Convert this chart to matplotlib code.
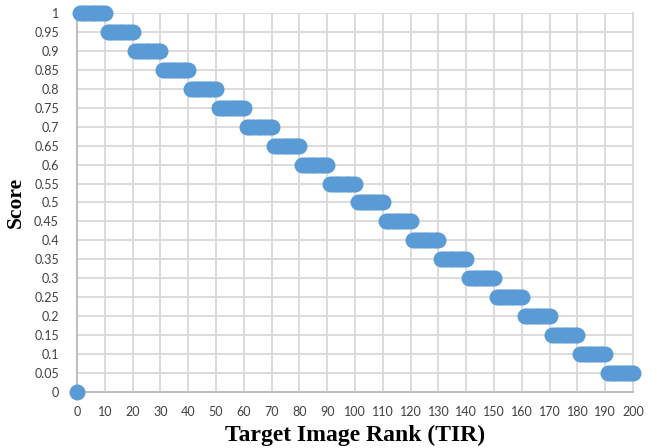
import numpy as np
import matplotlib.pyplot as plt

# score assigned to each block of ten target-image ranks
score_levels = [1.0, 0.95, 0.9, 0.85, 0.8, 0.75, 0.7, 0.65, 0.6, 0.55,
                0.5, 0.45, 0.4, 0.35, 0.3, 0.25, 0.2, 0.15, 0.1, 0.05]
band_first = [1, 11, 21, 31, 41, 51, 61, 71, 81, 91,
              101, 111, 121, 131, 141, 151, 161, 171, 181, 191]
band_last = [10, 20, 30, 40, 50, 60, 70, 80, 90, 100,
             110, 120, 130, 140, 150, 160, 170, 180, 190, 200]
zero_rank = [0]
zero_score = [0.0]

x_ticks = list(range(0, 201, 10))
y_ticks = [0, 0.05, 0.1, 0.15, 0.2, 0.25, 0.3, 0.35, 0.4, 0.45, 0.5,
           0.55, 0.6, 0.65, 0.7, 0.75, 0.8, 0.85, 0.9, 0.95, 1]
y_labels = ["0", "0.05", "0.1", "0.15", "0.2", "0.25", "0.3", "0.35", "0.4", "0.45",
            "0.5", "0.55", "0.6", "0.65", "0.7", "0.75", "0.8", "0.85", "0.9", "0.95", "1"]

BLUE = "#5B9BD5"

fig = plt.figure(figsize=(6.57, 4.48), dpi=100)
ax = fig.add_axes([0.1172, 0.125, 0.8463, 0.846])

for s, a, b in zip(score_levels, band_first, band_last):
    r = np.arange(a, b + 1)
    ax.plot(r, [s] * len(r), "o", color=BLUE, markersize=11.5, markeredgewidth=0,
            clip_on=False, zorder=3)
ax.plot(zero_rank, zero_score, "o", color=BLUE, markersize=11.5, markeredgewidth=0,
        clip_on=False, zorder=3)

ax.set_xlim(0, 200)
ax.set_ylim(0, 1)
ax.set_xticks(x_ticks)
ax.set_xticklabels([str(t) for t in x_ticks])
ax.set_yticks(y_ticks)
ax.set_yticklabels(y_labels)
ax.tick_params(axis="x", length=0, labelsize=9, colors="#404040", pad=10)
ax.tick_params(axis="y", length=0, labelsize=9, colors="#404040", pad=13)
for lab in ax.get_xticklabels() + ax.get_yticklabels():
    lab.set_fontfamily("Lato")

ax.grid(True, color="#D9D9D9", linewidth=1.3)
ax.set_axisbelow(True)
ax.spines["top"].set_visible(False)
ax.spines["right"].set_color("#D9D9D9")
ax.spines["right"].set_linewidth(1.3)
ax.spines["left"].set_color("#BFBFBF")
ax.spines["bottom"].set_color("#BFBFBF")
ax.spines["left"].set_linewidth(1.5)
ax.spines["bottom"].set_linewidth(1.5)

ax.set_xlabel("Target Image Rank (TIR)", fontfamily="Liberation Serif",
              fontweight="bold", fontsize=17, labelpad=5)
ax.set_ylabel("Score", fontfamily="Liberation Serif",
              fontweight="bold", fontsize=15.5, labelpad=6)

fig.savefig("out.png", dpi=100)
